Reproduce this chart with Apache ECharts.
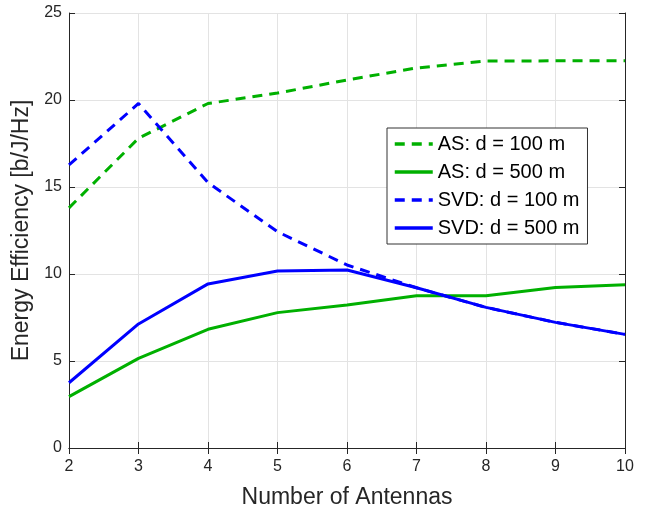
<!DOCTYPE html>
<html lang="en">
<head>
    <meta charset="UTF-8">
    <title>Energy Efficiency vs Number of Antennas</title>
    <script src="https://cdn.jsdelivr.net/npm/echarts@6/dist/echarts.min.js"></script>
    <style>
        html, body { margin: 0; padding: 0; background: #fff; }
        #main { width: 648px; height: 508px; }
    </style>
</head>
<body>
    <div id="main"></div>
    <script>
        var antennas = [2, 3, 4, 5, 6, 7, 8, 9, 10];
        var as100 = [13.8, 17.8, 19.8, 20.4, 21.15, 21.84, 22.24, 22.25, 22.25];
        var as500 = [2.95, 5.15, 6.82, 7.78, 8.22, 8.75, 8.75, 9.23, 9.38];
        var svd100 = [16.27, 19.8, 15.25, 12.43, 10.52, 9.21, 8.08, 7.22, 6.53];
        var svd500 = [3.75, 7.13, 9.43, 10.17, 10.23, 9.21, 8.08, 7.22, 6.53];

        var green = '#00b000';
        var blue = '#0000ff';
        var font = 'Liberation Sans, Arial, Helvetica, sans-serif';

        function pairs(ys) {
            return antennas.map(function (x, i) { return [x, ys[i]]; });
        }

        function line(name, ys, color, dashed) {
            return {
                name: name,
                type: 'line',
                data: pairs(ys),
                symbol: 'none',
                lineStyle: { color: color, width: 3, type: dashed ? [10, 7] : 'solid' },
                itemStyle: { color: color },
                z: dashed ? 3 : 2
            };
        }

        var chart = echarts.init(document.getElementById('main'));

        var option = {
            animation: false,
            backgroundColor: '#fff',
            grid: { left: 69, right: 23, top: 13, bottom: 60, outerBoundsMode: 'none' },
            legend: {
                orient: 'vertical',
                left: 387,
                top: 128,
                padding: [6, 8, 6, 6],
                itemGap: 8,
                itemWidth: 38,
                itemHeight: 20,
                backgroundColor: '#fff',
                borderColor: '#333',
                borderWidth: 1,
                itemStyle: { opacity: 0 },
                lineStyle: { width: 3.5 },
                textStyle: { fontFamily: font, fontSize: 20, color: '#000' },
                data: ['AS: d = 100 m', 'AS: d = 500 m', 'SVD: d = 100 m', 'SVD: d = 500 m']
            },
            xAxis: [{
                type: 'value', min: 2, max: 10, interval: 1,
                name: 'Number of Antennas', nameLocation: 'middle', nameGap: 38,
                nameTextStyle: { fontFamily: font, fontSize: 23, color: '#262626' },
                axisLine: { lineStyle: { color: '#262626', width: 1 } },
                axisTick: { inside: true, length: 6, lineStyle: { color: '#262626' } },
                axisLabel: { fontFamily: font, fontSize: 16, color: '#262626', margin: 11 },
                splitLine: { show: true, lineStyle: { color: '#e3e3e3', width: 1 } }
            }, {
                type: 'value', min: 2, max: 10, interval: 1, position: 'top',
                axisLine: { show: true, lineStyle: { color: '#262626', width: 1 } },
                axisTick: { inside: true, length: 6, lineStyle: { color: '#262626' } },
                axisLabel: { show: false },
                splitLine: { show: false }
            }],
            yAxis: [{
                type: 'value', min: 0, max: 25, interval: 5,
                name: 'Energy Efficiency [b/J/Hz]', nameLocation: 'middle', nameGap: 31,
                nameTextStyle: { fontFamily: font, fontSize: 23, color: '#262626' },
                axisLine: { show: true, lineStyle: { color: '#262626', width: 1 } },
                axisTick: { show: true, inside: true, length: 6, lineStyle: { color: '#262626' } },
                axisLabel: { fontFamily: font, fontSize: 16, color: '#262626', margin: 7 },
                splitLine: { show: true, lineStyle: { color: '#e3e3e3', width: 1 } }
            }, {
                type: 'value', min: 0, max: 25, interval: 5, position: 'right',
                axisLine: { show: true, lineStyle: { color: '#262626', width: 1 } },
                axisTick: { show: true, inside: true, length: 6, lineStyle: { color: '#262626' } },
                axisLabel: { show: false },
                splitLine: { show: false }
            }],
            series: [
                line('AS: d = 100 m', as100, green, true),
                line('AS: d = 500 m', as500, green, false),
                line('SVD: d = 100 m', svd100, blue, true),
                line('SVD: d = 500 m', svd500, blue, false)
            ]
        };

        chart.setOption(option);
    </script>
</body>
</html>
